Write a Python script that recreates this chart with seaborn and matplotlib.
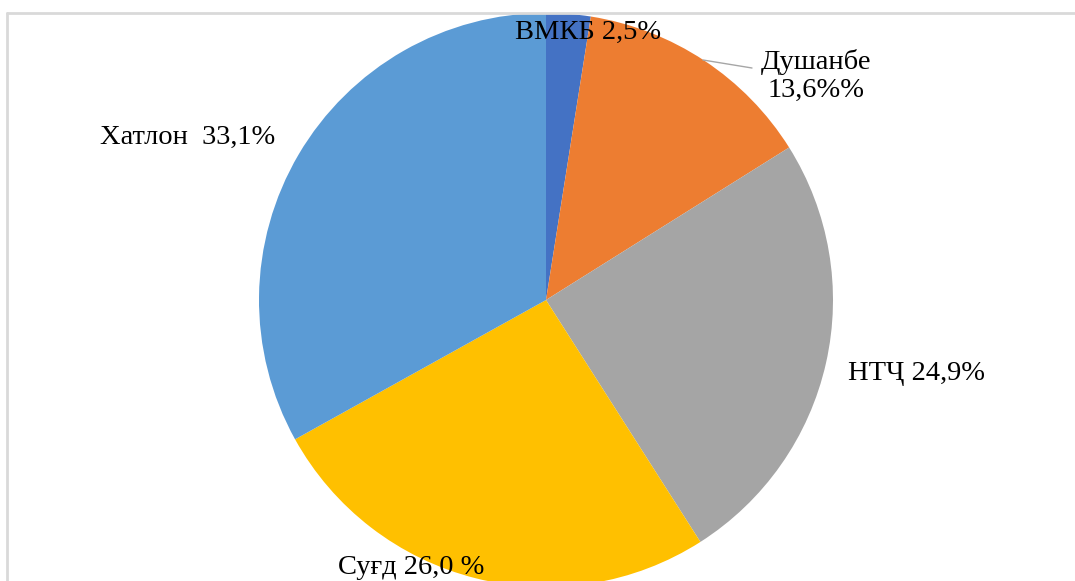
import matplotlib
matplotlib.use("Agg")
import matplotlib.pyplot as plt
import seaborn as sns

# regions and their share, clockwise from the top
regions = ["ВМКБ", "Душанбе", "НТҶ", "Суғд", "Хатлон"]
shares = [2.5, 13.6, 24.9, 26.0, 33.1]
labels = ["ВМКБ 2,5%", "Душанбе\n13,6%%", "НТҶ 24,9%", "Суғд 26,0 %", "Хатлон  33,1%"]
colours = ["#4472C4", "#ED7D31", "#A5A5A5", "#FFC000", "#5B9BD5"]

sns.set_theme(style="white")
plt.rcParams["font.family"] = ["Liberation Serif", "DejaVu Serif"]

W, H = 1075, 581


def py(y):
    # pixel row (from top) -> data y
    return H - y


fig = plt.figure(figsize=(W / 100, H / 100), dpi=100)
ax = fig.add_axes([0, 0, 1, 1])

ax.pie(
    shares,
    colors=sns.color_palette(colours),
    startangle=90,
    counterclock=False,
    center=(546, py(300)),
    radius=287,
    wedgeprops={"linewidth": 0},
)

ax.set_xlim(0, W)
ax.set_ylim(0, H)
ax.set_aspect("equal")
ax.axis("off")

# chart area border (only top and left visible)
ax.plot([7, W + 5], [py(13), py(13)], color="#d9d9d9", lw=2, clip_on=False)
ax.plot([7, 7], [py(13), -5], color="#d9d9d9", lw=2, clip_on=False)

label_pos = [(588, 32), (816, 76), (917, 374), (411, 567), (188, 137)]
for text, (x, y) in zip(labels, label_pos):
    ax.text(x, py(y), text, ha="center", va="center", fontsize=20.5,
            color="black", linespacing=1.2)

# leader line for Душанбе
ax.plot([703, 752], [py(60), py(68)], color="#a6a6a6", lw=1)

fig.savefig("out.png", dpi=100)
